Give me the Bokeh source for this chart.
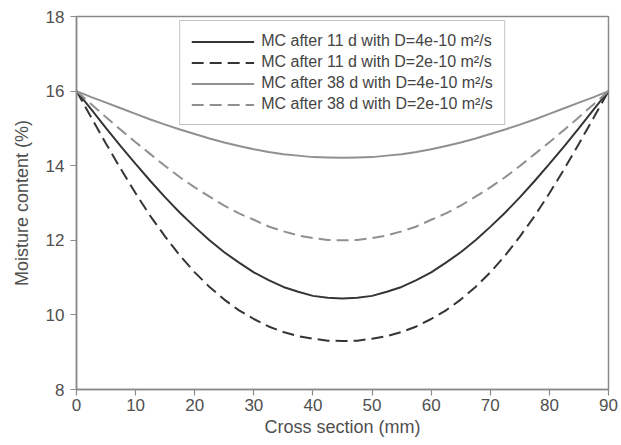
from bokeh.plotting import figure
from bokeh.models import Range1d, FixedTicker, Legend, LegendItem
from bokeh.embed import file_html
from bokeh.resources import INLINE

x_mm = [0, 2.5, 5, 7.5, 10, 12.5, 15, 17.5, 20, 22.5, 25, 27.5, 30, 32.5, 35, 37.5, 40, 42.5, 45,
        47.5, 50, 52.5, 55, 57.5, 60, 62.5, 65, 67.5, 70, 72.5, 75, 77.5, 80, 82.5, 85, 87.5, 90]
mc_11d_d4 = [16.0, 15.51, 15.01, 14.52, 14.05, 13.59, 13.15, 12.74, 12.36, 12.00, 11.68, 11.40,
             11.14, 10.93, 10.75, 10.62, 10.51, 10.46, 10.44,
             10.46, 10.51, 10.62, 10.75, 10.93, 11.14, 11.40, 11.68, 12.00, 12.36, 12.74,
             13.15, 13.59, 14.05, 14.52, 15.01, 15.51, 16.0]
mc_11d_d2 = [16.0, 15.29, 14.59, 13.91, 13.26, 12.65, 12.10, 11.59, 11.14, 10.75, 10.41, 10.12,
             9.89, 9.69, 9.54, 9.43, 9.36, 9.31, 9.30,
             9.31, 9.36, 9.43, 9.54, 9.69, 9.89, 10.12, 10.41, 10.75, 11.14, 11.59,
             12.10, 12.65, 13.26, 13.91, 14.59, 15.29, 16.0]
mc_38d_d4 = [16.0, 15.84, 15.69, 15.54, 15.39, 15.24, 15.10, 14.97, 14.85, 14.73, 14.62, 14.53,
             14.44, 14.37, 14.31, 14.27, 14.23, 14.22, 14.21,
             14.22, 14.23, 14.27, 14.31, 14.37, 14.44, 14.53, 14.62, 14.73, 14.85, 14.97,
             15.10, 15.24, 15.39, 15.54, 15.69, 15.84, 16.0]
mc_38d_d2 = [16.0, 15.65, 15.30, 14.96, 14.63, 14.31, 13.99, 13.69, 13.42, 13.17, 12.93, 12.72,
             12.55, 12.37, 12.24, 12.13, 12.06, 12.01, 12.0,
             12.01, 12.06, 12.13, 12.24, 12.37, 12.55, 12.72, 12.93, 13.17, 13.42, 13.69,
             13.99, 14.31, 14.63, 14.96, 15.30, 15.65, 16.0]
labels = ["MC after 11 d with D=4e-10 m\u00b2/s",
          "MC after 11 d with D=2e-10 m\u00b2/s",
          "MC after 38 d with D=4e-10 m\u00b2/s",
          "MC after 38 d with D=2e-10 m\u00b2/s"]
x_ticks = [0, 10, 20, 30, 40, 50, 60, 70, 80, 90]
y_ticks = [8, 10, 12, 14, 16, 18]

FONT = "Liberation Sans"
AX = "#8a8a8a"
TXT = "#505050"

p = figure(width=621, height=445, output_backend="svg", toolbar_location=None,
           x_range=Range1d(0, 90), y_range=Range1d(8, 18),
           min_border_left=76, min_border_right=13, min_border_top=16, min_border_bottom=56)
p.background_fill_color = "white"
p.border_fill_color = "white"
p.outline_line_color = AX
p.outline_line_width = 1.5
p.xgrid.visible = False
p.ygrid.visible = False

r1 = p.line(x_mm, mc_11d_d4, line_color="#353535", line_width=2)
r2 = p.line(x_mm, mc_11d_d2, line_color="#353535", line_width=2, line_dash="12 6")
r3 = p.line(x_mm, mc_38d_d4, line_color="#909090", line_width=2)
r4 = p.line(x_mm, mc_38d_d2, line_color="#909090", line_width=2, line_dash="12 6")

for ax in (p.xaxis[0], p.yaxis[0]):
    ax.axis_line_color = AX
    ax.axis_line_width = 1.5
    ax.major_tick_line_color = AX
    ax.major_tick_line_width = 1.2
    ax.major_tick_out = 6
    ax.major_tick_in = 0
    ax.minor_tick_line_color = None
    ax.major_label_text_font = FONT
    ax.major_label_text_font_size = "17px"
    ax.major_label_text_color = TXT
    ax.axis_label_text_font = FONT
    ax.axis_label_text_font_size = "18px"
    ax.axis_label_text_font_style = "normal"
    ax.axis_label_text_color = TXT

p.xaxis[0].ticker = FixedTicker(ticks=x_ticks)
p.yaxis[0].ticker = FixedTicker(ticks=y_ticks)
p.xaxis[0].axis_label = "Cross section (mm)"
p.yaxis[0].axis_label = "Moisture content (%)"
p.xaxis[0].major_label_standoff = 3
p.yaxis[0].major_label_standoff = 6
p.xaxis[0].axis_label_standoff = 3
p.yaxis[0].axis_label_standoff = 11

legend = Legend(items=[LegendItem(label=labels[0], renderers=[r1]),
                       LegendItem(label=labels[1], renderers=[r2]),
                       LegendItem(label=labels[2], renderers=[r3]),
                       LegendItem(label=labels[3], renderers=[r4])],
                location="top", margin=4)
legend.label_text_font = FONT
legend.label_text_font_size = "16px"
legend.label_text_color = "#444444"
legend.glyph_width = 63
legend.glyph_height = 17
legend.label_height = 17
legend.spacing = 3
legend.label_standoff = 7
legend.padding = 11
legend.border_line_color = AX
legend.border_line_width = 1.5
legend.background_fill_color = "white"
legend.background_fill_alpha = 1.0
p.add_layout(legend, "center")

open("out.html", "w").write(file_html(p, INLINE))
